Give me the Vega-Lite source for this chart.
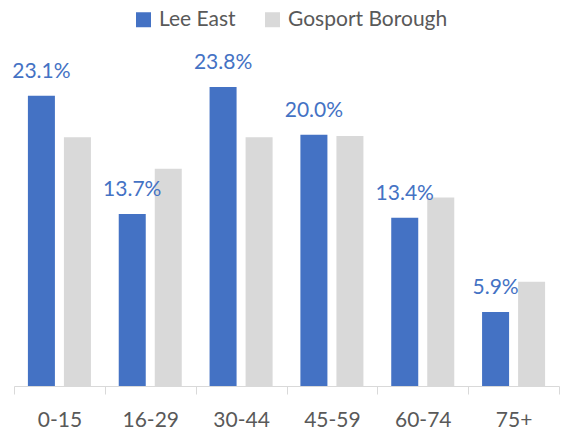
{
  "$schema": "https://vega.github.io/schema/vega-lite/v6.json",
  "autosize": {"type": "none"},
  "width": 545,
  "height": 314,
  "padding": {"left": 14, "top": 72, "right": 3, "bottom": 44},
  "background": "white",
  "config": {"view": {"stroke": null}, "font": "Lato"},
  "data": {
    "values": [
      {"age": "0-15", "area": "Lee East", "pct": 0.231},
      {"age": "0-15", "area": "Gosport Borough", "pct": 0.198},
      {"age": "16-29", "area": "Lee East", "pct": 0.137},
      {"age": "16-29", "area": "Gosport Borough", "pct": 0.173},
      {"age": "30-44", "area": "Lee East", "pct": 0.238},
      {"age": "30-44", "area": "Gosport Borough", "pct": 0.198},
      {"age": "45-59", "area": "Lee East", "pct": 0.200},
      {"age": "45-59", "area": "Gosport Borough", "pct": 0.199},
      {"age": "60-74", "area": "Lee East", "pct": 0.134},
      {"age": "60-74", "area": "Gosport Borough", "pct": 0.150},
      {"age": "75+", "area": "Lee East", "pct": 0.059},
      {"age": "75+", "area": "Gosport Borough", "pct": 0.083}
    ]
  },
  "encoding": {
    "x": {
      "field": "age", "type": "nominal", "sort": null,
      "scale": {"paddingInner": 0, "paddingOuter": 0},
      "axis": {
        "title": null, "labelAngle": 0, "tickBand": "extent",
        "domainColor": "#D9D9D9", "tickColor": "#D9D9D9", "tickSize": 8,
        "labelColor": "#595959", "labelFontSize": 21, "labelFont": "Lato",
        "labelPadding": 15
      }
    },
    "xOffset": {
      "field": "area", "type": "nominal", "sort": ["Lee East", "Gosport Borough"],
      "scale": {"paddingInner": 0.25, "paddingOuter": 0.386}
    },
    "y": {
      "field": "pct", "type": "quantitative",
      "scale": {"domain": [0, 0.25], "nice": false},
      "axis": null
    }
  },
  "layer": [
    {
      "mark": {"type": "bar"},
      "encoding": {
        "color": {
          "field": "area", "type": "nominal",
          "sort": ["Lee East", "Gosport Borough"],
          "scale": {"domain": ["Lee East", "Gosport Borough"], "range": ["#4472C4", "#D9D9D9"]},
          "legend": {
            "title": null, "orient": "none", "direction": "horizontal",
            "legendX": 119, "legendY": -63,
            "symbolType": "square", "symbolSize": 225, "symbolStrokeWidth": 0,
            "labelFontSize": 21, "labelFont": "Lato", "labelColor": "#595959",
            "labelOffset": 5, "columnPadding": 26
          }
        }
      }
    },
    {
      "transform": [{"filter": "datum.area === 'Lee East'"}],
      "mark": {"type": "text", "baseline": "alphabetic", "dy": -18, "fontSize": 21, "font": "Lato", "color": "#4472C4"},
      "encoding": {
        "text": {"field": "pct", "type": "quantitative", "format": ".1%"},
        "tooltip": null
      }
    }
  ]
}
